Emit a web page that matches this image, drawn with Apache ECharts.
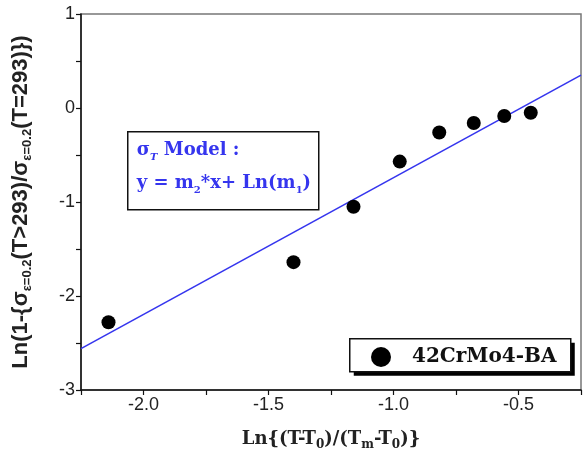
<!DOCTYPE html>
<html>
<head>
<meta charset="utf-8">
<script src="https://cdn.jsdelivr.net/npm/echarts@6/dist/echarts.min.js"></script>
<style>
  html, body { margin: 0; padding: 0; background: #fff; }
  #main { width: 584px; height: 458px; }
</style>
</head>
<body>
<div id="main"></div>
<script>
// measured points, Ln{(T-T0)/(Tm-T0)} vs Ln(1-{...})
var xVals = [-2.14, -1.40, -1.16, -0.975, -0.817, -0.679, -0.557, -0.451];
var yVals = [-2.28, -1.64, -1.05, -0.57, -0.26, -0.16, -0.085, -0.05];
// fitted model line (end points at the plot edges)
var fitX = [-2.25, -0.25];
var fitY = [-2.56, 0.35];
var xTicks = [-2.0, -1.5, -1.0, -0.5];
var yTicks = [-3, -2, -1, 0, 1];

var dom = document.getElementById('main');
var myChart = echarts.init(dom, null, { renderer: 'canvas' });

var points = xVals.map(function (x, i) { return [x, yVals[i]]; });
var fit = fitX.map(function (x, i) { return [x, fitY[i]]; });

var blue = '#3535ee';
var serif = '"DejaVu Serif", "Liberation Serif", serif';
var sans = '"Liberation Sans", Arial, sans-serif';

var option = {
  backgroundColor: '#fff',
  animation: false,
  grid: {
    left: 79, right: 1, top: 14, bottom: 68,
    show: true, borderColor: '#777', borderWidth: 1.5
  },
  xAxis: {
    type: 'value',
    min: -2.25, max: -0.25,
    interval: 0.25,
    name: 'Ln{(T-T{sub|0})/(T{sub|m}-T{sub|0})}',
    nameLocation: 'middle',
    nameGap: 37,
    nameTextStyle: {
      fontFamily: serif, fontWeight: 'bold', fontSize: 18, color: '#222', lineHeight: 24,
      rich: {
        sub: { fontFamily: serif, fontWeight: 'bold', fontSize: 12, color: '#222',
               verticalAlign: 'bottom', lineHeight: 4 }
      }
    },
    axisLine: { onZero: false, lineStyle: { color: '#111', width: 1.5 } },
    axisTick: { length: 5, lineStyle: { color: '#111', width: 1.2 } },
    splitLine: { show: false },
    axisLabel: {
      fontFamily: sans, fontSize: 18, color: '#222', margin: 6,
      formatter: function (v) {
        var hit = xTicks.some(function (t) { return Math.abs(t - v) < 1e-6; });
        return hit ? v.toFixed(1) : '';
      }
    }
  },
  yAxis: {
    type: 'value',
    min: -3, max: 1,
    interval: 0.5,
    name: 'Ln(1-{σ{sub|ε=0.2}(T>293)/σ{sub|ε=0.2}(T=293)})',
    nameLocation: 'middle',
    nameGap: 47,
    nameTextStyle: {
      fontFamily: sans, fontWeight: 'bold', fontSize: 22, color: '#222', lineHeight: 26,
      rich: {
        sub: { fontFamily: sans, fontWeight: 'bold', fontSize: 13, color: '#222',
               verticalAlign: 'bottom', lineHeight: 8 }
      }
    },
    axisLine: { onZero: false, lineStyle: { color: '#111', width: 1.5 } },
    axisTick: { length: 5, lineStyle: { color: '#111', width: 1.2 } },
    splitLine: { show: false },
    axisLabel: {
      fontFamily: sans, fontSize: 18, color: '#222', margin: 6,
      formatter: function (v) {
        var hit = yTicks.some(function (t) { return Math.abs(t - v) < 1e-6; });
        return hit ? String(v) : '';
      }
    }
  },
  legend: {
    data: ['42CrMo4-BA'],
    left: 371, top: 347,
    orient: 'horizontal',
    itemWidth: 20, itemHeight: 20,
    padding: 0,
    itemStyle: { opacity: 1 },
    textStyle: {
      fontFamily: serif, fontWeight: 'bold', fontSize: 20, color: '#111',
      padding: [0, 0, 0, 16]
    }
  },
  graphic: [
    {
      // legend frame with its drop shadow
      type: 'group',
      left: 349, top: 338,
      children: [
        {
          type: 'rect',
          shape: { x: 4, y: 4, width: 221, height: 33 },
          style: { fill: '#000' }
        },
        {
          type: 'rect',
          shape: { x: 0, y: 0, width: 221, height: 33 },
          style: { fill: '#fff', stroke: '#111', lineWidth: 1.5 }
        }
      ]
    },
    {
      type: 'group',
      left: 127, top: 131,
      children: [
        {
          type: 'rect',
          shape: { x: 0, y: 0, width: 191, height: 78 },
          style: { fill: '#fff', stroke: '#111', lineWidth: 1.5 }
        },
        {
          type: 'text',
          x: 9, y: 19,
          style: {
            text: 'σ{it|T} Model :',
            fill: blue, fontFamily: serif, fontWeight: 'bold', fontSize: 18,
            lineHeight: 24, verticalAlign: 'middle',
            rich: {
              it: { fill: blue, fontFamily: serif, fontWeight: 'bold', fontStyle: 'italic',
                    fontSize: 10, verticalAlign: 'bottom', lineHeight: 12 }
            }
          }
        },
        {
          type: 'text',
          x: 9, y: 52,
          style: {
            text: 'y = m{sub|2}*x+ Ln(m{sub|1})',
            fill: blue, fontFamily: serif, fontWeight: 'bold', fontSize: 18,
            lineHeight: 24, verticalAlign: 'middle',
            rich: {
              sub: { fill: blue, fontFamily: serif, fontWeight: 'bold',
                     fontSize: 10, verticalAlign: 'bottom', lineHeight: 4 }
            }
          }
        }
      ]
    }
  ],
  series: [
    {
      name: 'fit',
      type: 'line',
      data: fit,
      showSymbol: false,
      symbol: 'none',
      lineStyle: { color: blue, width: 1.6 },
      z: 2
    },
    {
      name: '42CrMo4-BA',
      type: 'scatter',
      data: points,
      symbol: 'circle',
      symbolSize: 14,
      itemStyle: { color: '#000', opacity: 1 },
      z: 3
    }
  ]
};

myChart.setOption(option);
</script>
</body>
</html>
